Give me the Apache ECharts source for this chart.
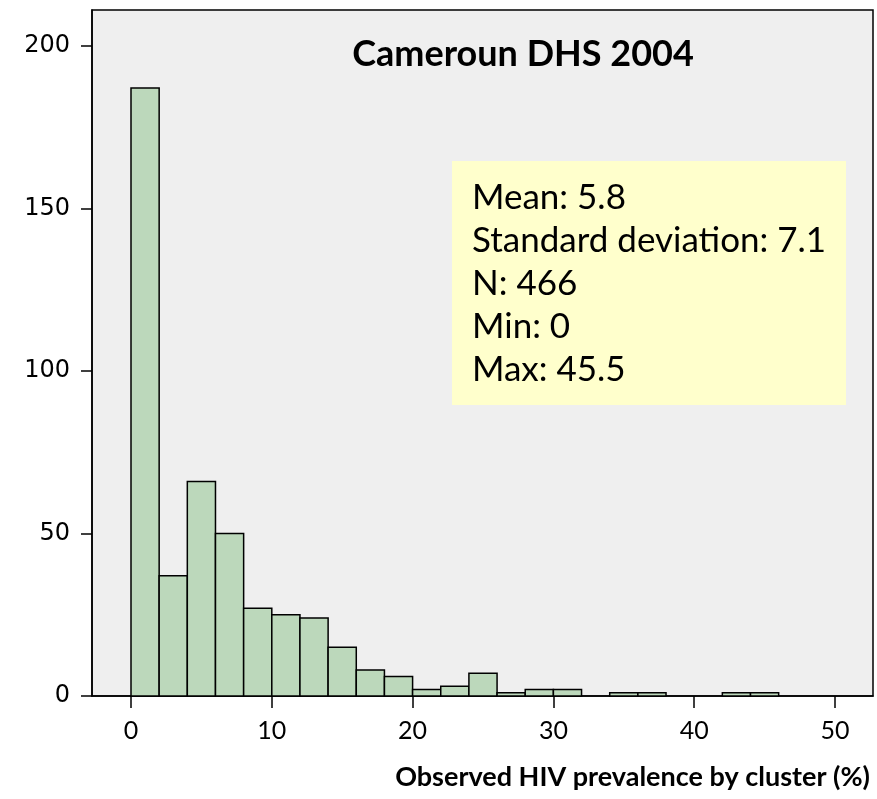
<!DOCTYPE html>
<html>
<head>
<meta charset="utf-8">
<script src="https://cdn.jsdelivr.net/npm/echarts@6/dist/echarts.min.js"></script>
<style>
  html, body { margin: 0; padding: 0; background: #fff; }
  #chart { width: 877px; height: 799px; }
</style>
</head>
<body>
<div id="chart"></div>
<script>
// histogram bins (width 2) and cluster counts
var binStarts = [0, 2, 4, 6, 8, 10, 12, 14, 16, 18, 20, 22, 24, 26, 28, 30, 32, 34, 36, 38, 40, 42, 44, 46, 48];
var counts    = [187, 37, 66, 50, 27, 25, 24, 15, 8, 6, 2, 3, 7, 1, 2, 2, 0, 1, 1, 0, 0, 1, 1, 0, 0];
var binWidth = 2;
var xTicks = [0, 10, 20, 30, 40, 50];
var yTicks = [0, 50, 100, 150, 200];
var statLines = ['Mean: 5.8', 'Standard deviation: 7.1', 'N: 466', 'Min: 0', 'Max: 45.5'];
var chartTitle = 'Cameroun DHS 2004';
var xTitle = 'Observed HIV prevalence by cluster (%)';

var bins = [];
for (var i = 0; i < binStarts.length; i++) {
    if (counts[i] > 0) bins.push([binStarts[i], binStarts[i] + binWidth, counts[i]]);
}

var chart = echarts.init(document.getElementById('chart'));
chart.setOption({
    animation: false,
    backgroundColor: '#ffffff',
    title: {
        text: chartTitle,
        left: 518,
        top: 31,
        textAlign: 'center',
        textStyle: { fontFamily: 'Lato', fontWeight: 'bold', fontSize: 36, color: '#000' }
    },
    grid: {
        left: 92, top: 10, right: 4, bottom: 103,
        show: true,
        backgroundColor: '#efefef',
        borderColor: '#000',
        borderWidth: 1.5
    },
    xAxis: {
        type: 'value',
        min: -2.77,
        max: 52.7,
        splitLine: { show: false },
        axisLine: { onZero: false, lineStyle: { color: '#000', width: 1.5 } },
        axisTick: { customValues: xTicks, length: 12, lineStyle: { color: '#000', width: 1.5 } },
        axisLabel: {
            customValues: xTicks,
            margin: 22,
            fontFamily: 'Lato', fontSize: 25, color: '#000'
        }
    },
    yAxis: {
        type: 'value',
        min: 0,
        max: 211,
        splitLine: { show: false },
        axisLine: { show: true, onZero: false, lineStyle: { color: '#000', width: 1.5 } },
        axisTick: { show: true, customValues: yTicks, length: 11, lineStyle: { color: '#000', width: 1.5 } },
        axisLabel: {
            customValues: yTicks,
            margin: 22,
            fontFamily: 'DejaVu Sans', fontSize: 24, color: '#000'
        }
    },
    series: [{
        type: 'custom',
        data: bins,
        renderItem: function (params, api) {
            var p0 = api.coord([api.value(0), 0]);
            var p1 = api.coord([api.value(1), api.value(2)]);
            return {
                type: 'rect',
                shape: { x: p0[0], y: p1[1], width: p1[0] - p0[0], height: p0[1] - p1[1] },
                style: { fill: '#bcd8bb', stroke: '#000', lineWidth: 1.5 }
            };
        }
    }],
    graphic: [
        {
            type: 'rect',
            shape: { x: 452, y: 161, width: 394, height: 244 },
            style: { fill: '#ffffcc' },
            z: 10
        },
        {
            type: 'text',
            x: 472,
            y: 176,
            z: 11,
            style: {
                text: statLines.join('\n'),
                font: '35px Lato',
                lineHeight: 43,
                fill: '#000',
                textAlign: 'left',
                textVerticalAlign: 'top'
            }
        },
        {
            type: 'text',
            x: 870,
            y: 777,
            style: {
                text: xTitle,
                font: 'bold 27px Lato',
                fill: '#000',
                textAlign: 'right',
                textVerticalAlign: 'middle'
            }
        }
    ]
});
</script>
</body>
</html>
